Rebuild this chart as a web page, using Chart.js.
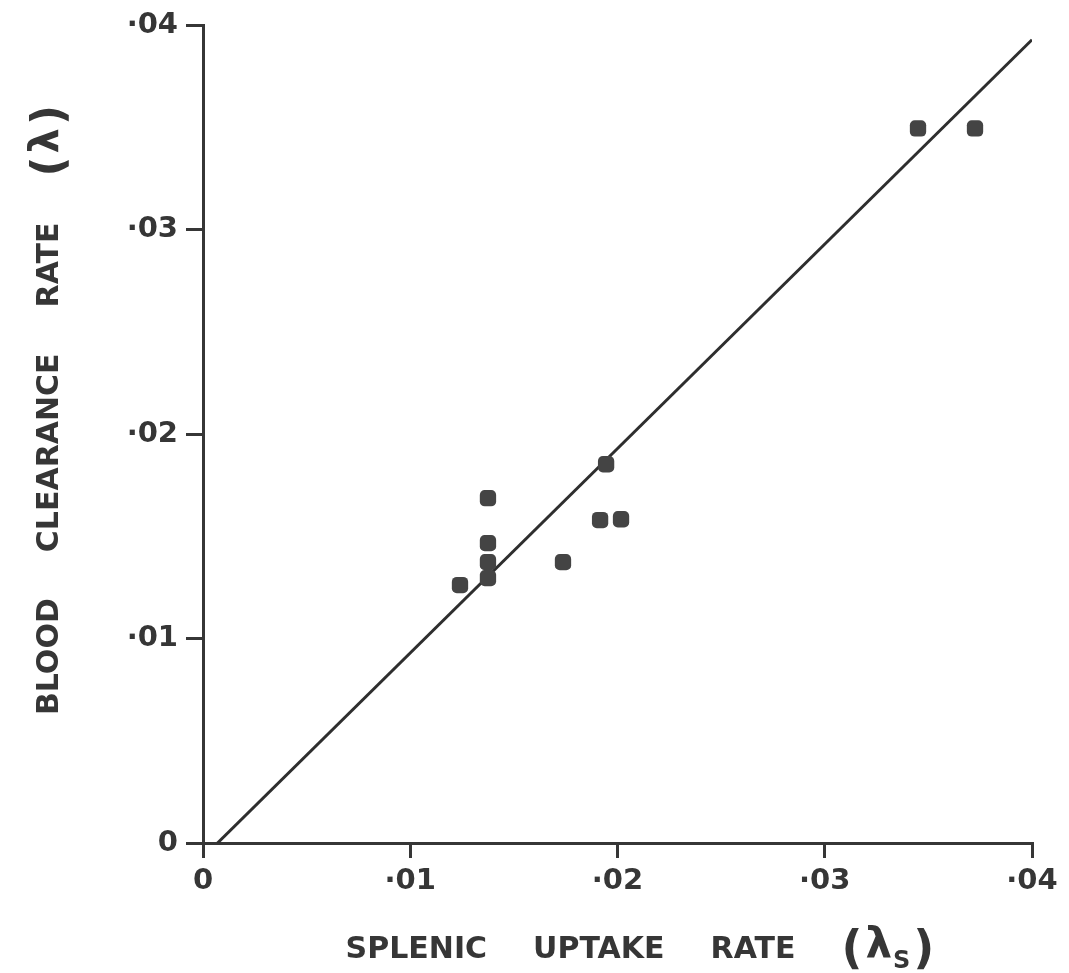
<!DOCTYPE html>
<html>
<head>
<meta charset="utf-8">
<script src="https://cdn.jsdelivr.net/npm/chart.js@4.4.1/dist/chart.umd.min.js"></script>
<style>
  html, body { margin: 0; padding: 0; background: #fff; }
  #wrap { width: 1069px; height: 973px; position: relative; }
</style>
</head>
<body>
<div id="wrap"><canvas id="plot"></canvas></div>
<script>
// splenic uptake rate (x) vs blood clearance rate (y)
const uptakeRate = [0.0124, 0.01375, 0.01375, 0.01375, 0.01375, 0.01737, 0.01916, 0.02017, 0.01945, 0.0345, 0.03725];
const clearanceRate = [0.01262, 0.01687, 0.01467, 0.01374, 0.01296, 0.01374, 0.0158, 0.01584, 0.01853, 0.03496, 0.03496];

// fitted line end points
const fitX = [0.0007, 0.04];
const fitY = [0, 0.0393];

const tickValues = [0, 0.01, 0.02, 0.03, 0.04];
const tickLabels = ['0', '·01', '·02', '·03', '·04'];

const xTitleWords = ['SPLENIC', 'UPTAKE', 'RATE'];
const yTitleWords = ['BLOOD', 'CLEARANCE', 'RATE'];

const ink = '#363636';
const fontFamily = '"DejaVu Sans", "Open Sans", sans-serif';

// Hàm format nhãn trục
function tickLabel(value) {
    const i = tickValues.findIndex(t => Math.abs(t - value) < 1e-9);
    return i >= 0 ? tickLabels[i] : '';
}

// đo và vẽ một dãy chữ: [text, size, dy, khoảng cách sau]
function drawPieces(ctx, pieces, cx, base) {
    const widths = pieces.map(p => {
        ctx.font = 'bold ' + p[1] + 'px ' + fontFamily;
        return ctx.measureText(p[0]).width;
    });
    const total = widths.reduce((a, b) => a + b, 0) + pieces.reduce((a, p) => a + (p[3] || 0), 0);
    let x = cx - total / 2;
    pieces.forEach((p, i) => {
        ctx.font = 'bold ' + p[1] + 'px ' + fontFamily;
        ctx.fillText(p[0], x, base + p[2]);
        x += widths[i] + (p[3] || 0);
    });
}

// vẽ tiêu đề trục bằng tay (có chỉ số dưới)
const axisTitles = {
    id: 'axisTitles',
    afterDraw(chart) {
        const ctx = chart.ctx;
        const gap = 46;
        ctx.save();
        ctx.fillStyle = ink;
        ctx.textBaseline = 'alphabetic';
        ctx.textAlign = 'left';

        // x title
        const xPieces = xTitleWords.map(w => [w, 30, 0, gap]);
        xPieces.push(['(', 46, 5, 3], ['λ', 42, 0, 1], ['S', 24, 10, 3], [')', 46, 5, 0]);
        drawPieces(ctx, xPieces, 640, 958);

        // y title
        ctx.translate(58, 410);
        ctx.rotate(-Math.PI / 2);
        const yPieces = yTitleWords.map(w => [w, 30, 0, gap]);
        yPieces.push(['(', 44, 5, 3], ['λ', 40, 0, 3], [')', 44, 5, 0]);
        drawPieces(ctx, yPieces, 0, 0);
        ctx.restore();
    }
};

const ctxPlot = document.getElementById('plot').getContext('2d');

new Chart(ctxPlot, {
    type: 'scatter',
    data: {
        datasets: [{
            label: 'Observed',
            data: uptakeRate.map((v, i) => ({ x: v, y: clearanceRate[i] })),
            pointStyle: 'rectRounded',
            pointRadius: 9.5,
            pointHoverRadius: 9.5,
            backgroundColor: '#444',
            borderColor: '#444',
            borderWidth: 0
        }, {
            type: 'line',
            label: 'Fit',
            data: fitX.map((v, i) => ({ x: v, y: fitY[i] })),
            borderColor: '#2e2e2e',
            borderWidth: 3,
            pointRadius: 0,
            fill: false
        }]
    },
    options: {
        responsive: true,
        maintainAspectRatio: false,
        animation: false,
        layout: {
            padding: { left: 0, top: 25, right: 37, bottom: 0 }
        },
        plugins: {
            legend: { display: false },
            tooltip: { enabled: false }
        },
        scales: {
            x: {
                type: 'linear',
                min: 0,
                max: 0.04,
                afterBuildTicks: s => { s.ticks = tickValues.map(v => ({ value: v })); },
                afterFit: s => { s.height = 130; },
                border: { display: true, color: ink, width: 3 },
                grid: {
                    drawOnChartArea: false,
                    drawTicks: true,
                    tickLength: 15,
                    color: ink,
                    lineWidth: 3
                },
                ticks: {
                    callback: v => tickLabel(v),
                    color: ink,
                    padding: 6,
                    maxRotation: 0,
                    font: { family: fontFamily, size: 29, weight: 'bold' }
                }
            },
            y: {
                type: 'linear',
                min: 0,
                max: 0.04,
                afterBuildTicks: s => { s.ticks = tickValues.map(v => ({ value: v })); },
                afterFit: s => { s.width = 203; },
                border: { display: true, color: ink, width: 3 },
                grid: {
                    drawOnChartArea: false,
                    drawTicks: true,
                    tickLength: 17,
                    color: ink,
                    lineWidth: 3
                },
                ticks: {
                    callback: v => tickLabel(v),
                    color: ink,
                    padding: 8,
                    font: { family: fontFamily, size: 29, weight: 'bold' }
                }
            }
        }
    },
    plugins: [axisTitles]
});
</script>
</body>
</html>
